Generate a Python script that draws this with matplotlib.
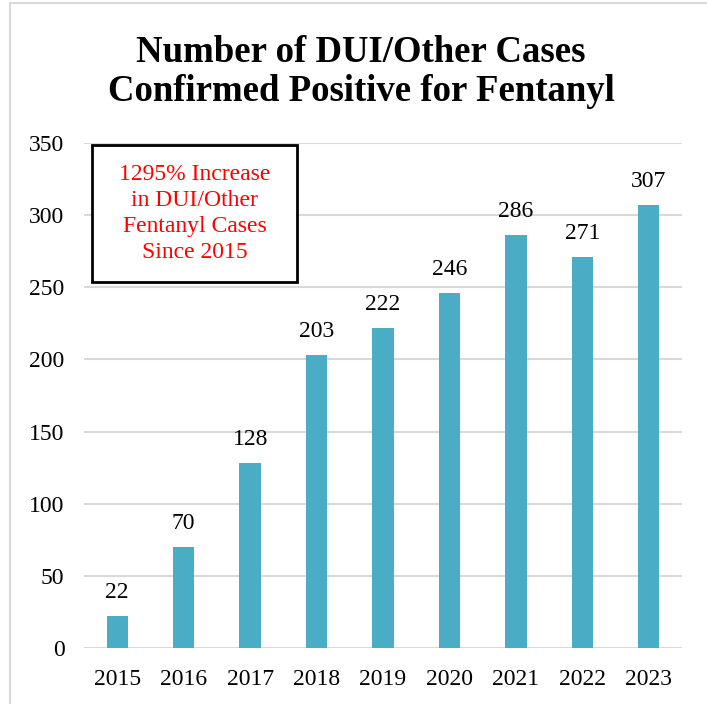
import matplotlib
matplotlib.use("Agg")
import matplotlib.pyplot as plt
from matplotlib.patches import Rectangle

years = ["2015", "2016", "2017", "2018", "2019", "2020", "2021", "2022", "2023"]
cases = [22, 70, 128, 203, 222, 246, 286, 271, 307]
title = "Number of DUI/Other Cases\nConfirmed Positive for Fentanyl"
note = "1295% Increase\nin DUI/Other\nFentanyl Cases\nSince 2015"

plt.rcParams["font.family"] = ["Liberation Serif", "DejaVu Serif"]

W, H = 707, 704
fig = plt.figure(figsize=(W / 100, H / 100), dpi=100)
ax = fig.add_axes([84 / W, 1 - 648 / H, 598 / W, 505 / H])

# outer chart border
fig.patches.append(Rectangle((10 / W, -0.05), 1.1, 1 - 3 / H + 0.05,
                             transform=fig.transFigure, fill=False,
                             edgecolor="#d9d9d9", linewidth=1.5))

x = range(len(years))
ax.bar(x, cases, width=0.32, color="#4BACC6", zorder=3)
for i, v in zip(x, cases):
    ax.text(i, v + 9, str(v), ha="center", va="bottom", fontsize=17)

ax.set_xlim(-0.5, len(years) - 0.5)
ax.set_ylim(0, 350)
ax.set_yticks(range(0, 351, 50))
ax.set_xticks(list(x))
ax.set_xticklabels(years)
ax.tick_params(length=0, labelsize=17)
ax.tick_params(axis="x", pad=15)
ax.tick_params(axis="y", pad=14)
ax.grid(axis="y", color="#d9d9d9", linewidth=1.5, zorder=0)
for s in ax.spines.values():
    s.set_visible(False)

fig.text(361 / W, 1 - 72 / H, title, ha="center", va="center",
         fontsize=26.5, fontweight="bold", linespacing=1.18)

# annotation box
bx0, bx1, by0, by1 = 92, 297, 145, 282
ax.add_patch(Rectangle(((bx0 - 84) / 598, 1 - (by1 - 143) / 505),
                       (bx1 - bx0) / 598, (by1 - by0) / 505,
                       transform=ax.transAxes, facecolor="white",
                       edgecolor="black", linewidth=2, zorder=4))
ax.text(((bx0 + bx1) / 2 - 84) / 598, 1 - ((by0 + by1) / 2 - 143) / 505, note,
        transform=ax.transAxes, ha="center", va="center", color="red",
        fontsize=17, linespacing=1.33, zorder=5)

fig.savefig("out.png", dpi=100)
